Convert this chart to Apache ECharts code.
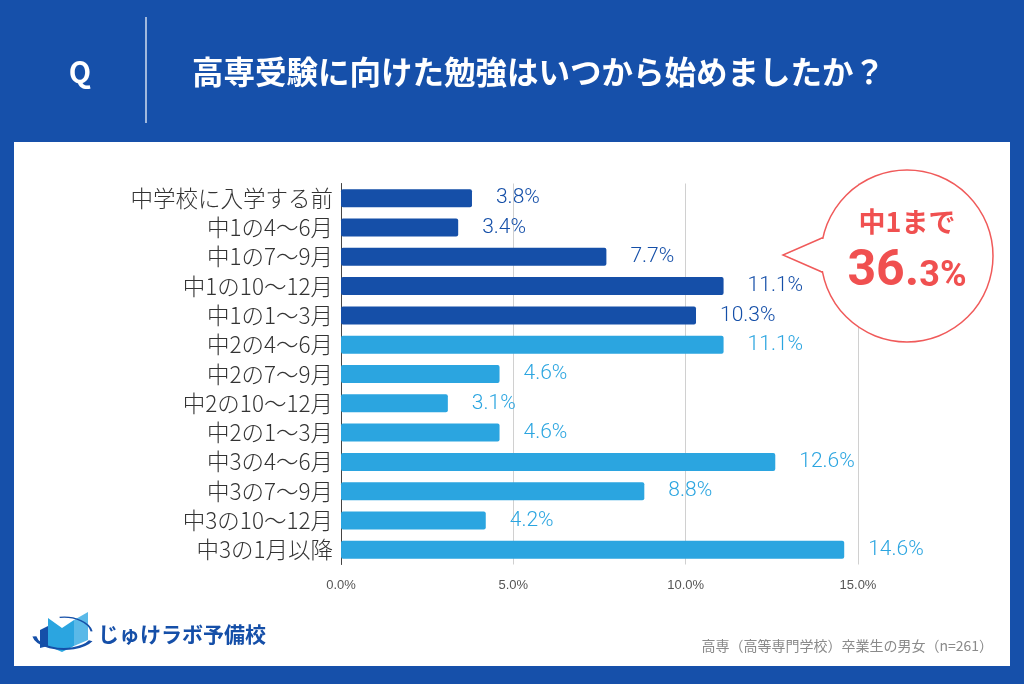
<!DOCTYPE html>
<html><head><meta charset="utf-8">
<script src="https://cdn.jsdelivr.net/npm/echarts@6/dist/echarts.min.js"></script>
<style>html,body{margin:0;padding:0;background:#1650AA;}#c{width:1024px;height:684px;}</style>
</head><body><div id="c"></div>
<script>
const categories = ['中学校に入学する前','中1の4～6月','中1の7～9月','中1の10～12月','中1の1～3月','中2の4～6月','中2の7～9月','中2の10～12月','中2の1～3月','中3の4～6月','中3の7～9月','中3の10～12月','中3の1月以降'];
const values = [3.8,3.4,7.7,11.1,10.3,11.1,4.6,3.1,4.6,12.6,8.8,4.2,14.6];
const darkCount = 5;
const xTicks = [0,5,10,15];
const title = '高専受験に向けた勉強はいつから始めましたか？';
const note = '高専（高等専門学校）卒業生の男女（n=261）';
const DARK = '#154FA8', LIGHT = '#2BA5E0';
const FONT = '"Noto Sans CJK JP","Noto Sans",sans-serif';

const chart = echarts.init(document.getElementById('c'));
chart.setOption({
  backgroundColor: '#1650AA',
  textStyle: {fontFamily: FONT},
  graphic: [
    {type:'rect', shape:{x:14,y:142,width:996,height:524}, style:{fill:'#fff'}, z:-10},
    {type:'text', x:80, y:72, style:{text:'Q', fill:'#fff', font:'bold 29px '+FONT, textAlign:'center', textVerticalAlign:'middle'}},
    {type:'line', shape:{x1:146,y1:17,x2:146,y2:123}, style:{stroke:'#fff', lineWidth:1.2}},
    {type:'text', x:192, y:72, style:{text:title, fill:'#fff', font:'bold 31.5px '+FONT, textVerticalAlign:'middle'}},
    // callout
    {type:'circle', shape:{cx:907,cy:256,r:86}, style:{fill:'#fff', stroke:'#F05A5A', lineWidth:1.5}, z:50},
    {type:'polygon', shape:{points:[[822,238],[783,255],[822,272]]}, style:{fill:'#fff', stroke:'#F05A5A', lineWidth:1.5}, z:51},
    {type:'polygon', shape:{points:[[823,240],[786,255],[823,270]]}, style:{fill:'#fff', stroke:null}, z:52},
    {type:'rect', shape:{x:821,y:239,width:6,height:32}, style:{fill:'#fff'}, z:52},
    {type:'text', x:907, y:222, z:60, style:{text:'中1まで', fill:'#F05050', font:'bold 27px '+FONT, textAlign:'center', textVerticalAlign:'middle'}},
    {type:'text', x:907, y:272, z:60, style:{text:'{a|36.}{b|3%}', rich:{a:{fill:'#F05050', font:'bold 50px Roboto, '+FONT}, b:{fill:'#F05050', font:'bold 36px Roboto, '+FONT, padding:[10,0,0,0]}}, textAlign:'center', textVerticalAlign:'middle'}},
    // logo
    {type:'polygon', shape:{points:[[48,618],[62,628],[74,620],[74,646],[62,652],[48,646]]}, style:{fill:'#2BA5E0'}, z:5},
    {type:'polygon', shape:{points:[[74,620],[88,612],[88,640],[74,646]]}, style:{fill:'#5AB9E8'}, z:5},
    {type:'polygon', shape:{points:[[40,630],[48,626],[48,646],[40,648]]}, style:{fill:'#154FA8'}, z:5},
    {type:'arc', shape:{cx:64,cy:634,r:30,startAngle:Math.PI*0.15,endAngle:Math.PI*0.95}, style:{stroke:'#154FA8', lineWidth:4, fill:null}, z:6, scaleY:0.5, originY:634, originX:64},
    {type:'arc', shape:{cx:64,cy:634,r:28,startAngle:-Math.PI*0.55,endAngle:-Math.PI*0.05}, style:{stroke:'#154FA8', lineWidth:2, fill:null}, z:6, scaleY:0.6, originY:634, originX:64},
    {type:'text', x:98, y:634, style:{text:'じゅけラボ予備校', fill:'#154FA8', font:'bold 21px '+FONT, textVerticalAlign:'middle'}},
    {type:'text', x:993, y:646, style:{text:note, fill:'#8a8a8a', font:'14px '+FONT, textAlign:'right', textVerticalAlign:'middle'}}
  ],
  grid: {left:341, right:166, top:183.5, bottom:119.5, containLabel:false},
  xAxis: {
    type:'value', min:0, max:15, interval:5,
    axisLine:{show:false}, axisTick:{show:false},
    splitLine:{show:true, lineStyle:{color:'#d0d0d0', width:1}},
    axisLabel:{formatter: v => v.toFixed(1)+'%', color:'#555', fontSize:13, margin:14, fontFamily:'"Liberation Sans",Arial,sans-serif'}
  },
  yAxis: {
    type:'category', data:categories, inverse:true,
    axisLine:{show:true, lineStyle:{color:'#444', width:1}},
    axisTick:{show:false},
    axisLabel:{color:'#333', fontSize:22.5, margin:8, fontFamily:FONT, fontWeight:300}
  },
  series: [{
    type:'bar', barWidth:18,
    data: values.map((v,i)=>({value:v, itemStyle:{color: i<darkCount?DARK:LIGHT, borderRadius:2}, label:{color: i<darkCount?DARK:LIGHT}})),
    label:{show:true, position:'right', distance:24, fontSize:21, fontWeight:300, formatter: p => p.value.toFixed(1)+'%', fontFamily:'Roboto,"Noto Sans",sans-serif'},
    animation:false
  }],
  animation:false
});
</script></body></html>
